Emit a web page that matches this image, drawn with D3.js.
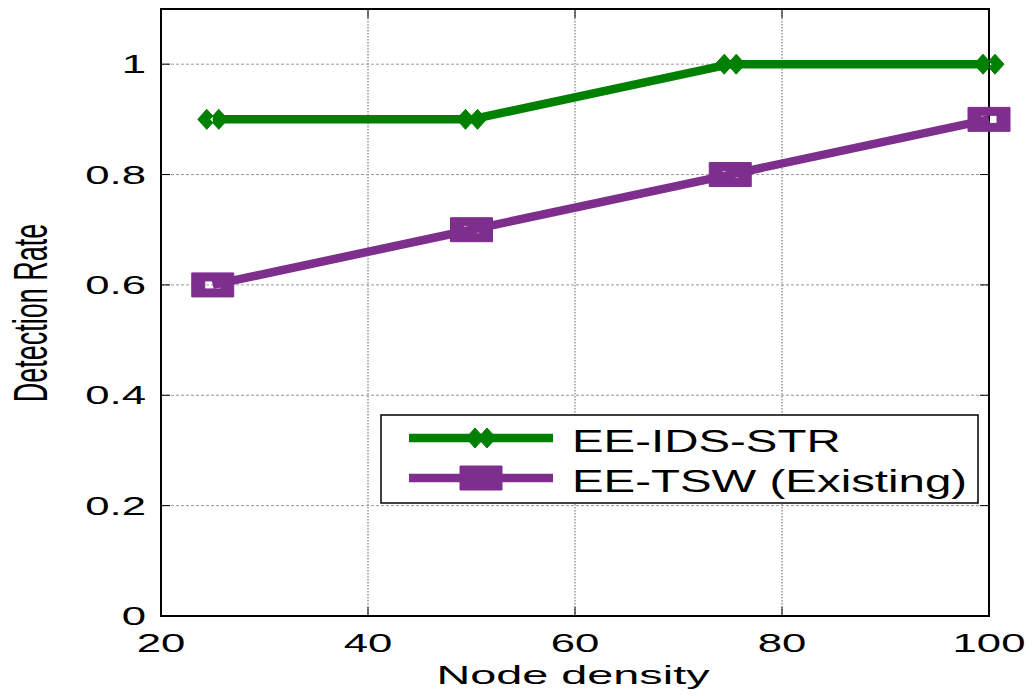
<!DOCTYPE html>
<html>
<head>
<meta charset="utf-8">
<script src="https://cdn.jsdelivr.net/npm/d3@7"></script>
<style>
  html, body { margin: 0; padding: 0; background: #fff; }
  svg { display: block; }
  text { font-family: "Liberation Sans", Arial, sans-serif; fill: #000; }
</style>
</head>
<body>
<svg id="chart" width="1033" height="696"></svg>
<script>
// Node density on the x axis, detection rate on the y axis
const nodeDensity = [25, 50, 75, 100];
const eeIdsStr = [0.9, 0.9, 1.0, 1.0];
const eeTsw = [0.6, 0.7, 0.8, 0.9];
const xTicks = [20, 40, 60, 80, 100];
const yTicks = [0, 0.2, 0.4, 0.6, 0.8, 1];
const yTickLabels = ["0", "0.2", "0.4", "0.6", "0.8", "1"];
const seriesNames = ["EE-IDS-STR", "EE-TSW (Existing)"];

const svg = d3.select("#chart");
const L = 161, R = 989, T = 9, B = 616;

const x = d3.scaleLinear().domain([20, 100]).range([L, R]);
const y = d3.scaleLinear().domain([0, 1.1]).range([B, T]);

const green = "#008000";
const purple = "#7E2F8E";

// horizontally stretched text helper
function stretchedText(g, str, px, py, size, sx, anchor) {
  return g.append("text")
    .attr("transform", `translate(${px},${py}) scale(${sx},1)`)
    .attr("text-anchor", anchor)
    .attr("font-size", size)
    .text(str);
}

// grid
const grid = svg.append("g");
grid.selectAll(".gx").data(xTicks.slice(1, -1)).enter().append("line")
  .attr("x1", d => x(d)).attr("x2", d => x(d)).attr("y1", T).attr("y2", B)
  .attr("stroke", "#666").attr("stroke-width", 1).attr("stroke-dasharray", "1.5,1.5");
grid.selectAll(".gy").data(yTicks.slice(1)).enter().append("line")
  .attr("x1", L).attr("x2", R).attr("y1", d => y(d)).attr("y2", d => y(d))
  .attr("stroke", "#999").attr("stroke-width", 1).attr("stroke-dasharray", "3,2");

// inward ticks on all four sides
const ticks = svg.append("g").attr("stroke", "#000").attr("stroke-width", 1);
yTicks.forEach(v => {
  ticks.append("line").attr("x1", L).attr("x2", L + 9).attr("y1", y(v)).attr("y2", y(v));
  ticks.append("line").attr("x1", R).attr("x2", R - 9).attr("y1", y(v)).attr("y2", y(v));
});
xTicks.forEach(v => {
  ticks.append("line").attr("x1", x(v)).attr("x2", x(v)).attr("y1", B).attr("y2", B - 9);
  ticks.append("line").attr("x1", x(v)).attr("x2", x(v)).attr("y1", T).attr("y2", T + 9);
});

// frame
svg.append("rect").attr("x", L).attr("y", T).attr("width", R - L).attr("height", B - T)
  .attr("fill", "none").attr("stroke", "#000").attr("stroke-width", 2);

// tick labels
const labels = svg.append("g");
yTicks.forEach((v, i) => {
  stretchedText(labels, yTickLabels[i], 146, y(v) + 9, 25, 1.75, "end");
});
xTicks.forEach(v => {
  stretchedText(labels, String(v), x(v), 652, 25, 1.75, "middle");
});

// axis titles
stretchedText(labels, "Node density", 573, 684, 26, 1.8, "middle");
labels.append("text")
  .attr("transform", `translate(47,313) scale(1.8,1) rotate(-90)`)
  .attr("text-anchor", "middle")
  .attr("font-size", 27)
  .text("Detection Rate");

// marker shapes
function doubleDiamond(cx, cy) {
  const o = 6, hw = 9, hh = 10;
  let p = "";
  [-o, o].forEach(dx => {
    const c = cx + dx;
    p += `M${c - hw},${cy}L${c},${cy - hh}L${c + hw},${cy}L${c},${cy + hh}Z`;
  });
  return p;
}
function hollowBox(cx, cy) {
  const ow = 21, oh = 12, iw = 8, ih = 4;
  return `M${cx - ow},${cy - oh}H${cx + ow}V${cy + oh}H${cx - ow}Z` +
         `M${cx - iw},${cy - ih}V${cy + ih}H${cx + iw}V${cy - ih}Z`;
}

const line = d3.line().x(d => x(d[0])).y(d => y(d[1]));

const series = [
  { vals: eeTsw, color: purple, marker: hollowBox },
  { vals: eeIdsStr, color: green, marker: doubleDiamond }
];
series.forEach(s => {
  const pts = nodeDensity.map((d, i) => [d, s.vals[i]]);
  svg.append("path").attr("d", line(pts)).attr("fill", "none")
    .attr("stroke", s.color).attr("stroke-width", 8.5).attr("stroke-linejoin", "round");
  svg.append("g").selectAll("path").data(pts).enter().append("path")
    .attr("d", d => s.marker(x(d[0]), y(d[1])))
    .attr("fill", s.color).attr("stroke", s.color).attr("stroke-width", 1)
    .attr("fill-rule", "evenodd");
});

// legend
const lg = svg.append("g");
lg.append("rect").attr("x", 381).attr("y", 415).attr("width", 597).attr("height", 88)
  .attr("fill", "#fff").attr("stroke", "#000").attr("stroke-width", 1.5);
const legendItems = [
  { name: seriesNames[0], color: green, marker: doubleDiamond, ly: 438, ty: 452 },
  { name: seriesNames[1], color: purple, marker: hollowBox, ly: 478, ty: 492 }
];
legendItems.forEach(it => {
  lg.append("line").attr("x1", 409).attr("x2", 553).attr("y1", it.ly).attr("y2", it.ly)
    .attr("stroke", it.color).attr("stroke-width", 8.5);
  lg.append("path").attr("d", it.marker(481, it.ly)).attr("fill", it.color)
    .attr("stroke", it.color).attr("stroke-width", 1).attr("fill-rule", "evenodd");
  stretchedText(lg, it.name, 572, it.ty, 31, 1.53, "start");
});
</script>
</body>
</html>
